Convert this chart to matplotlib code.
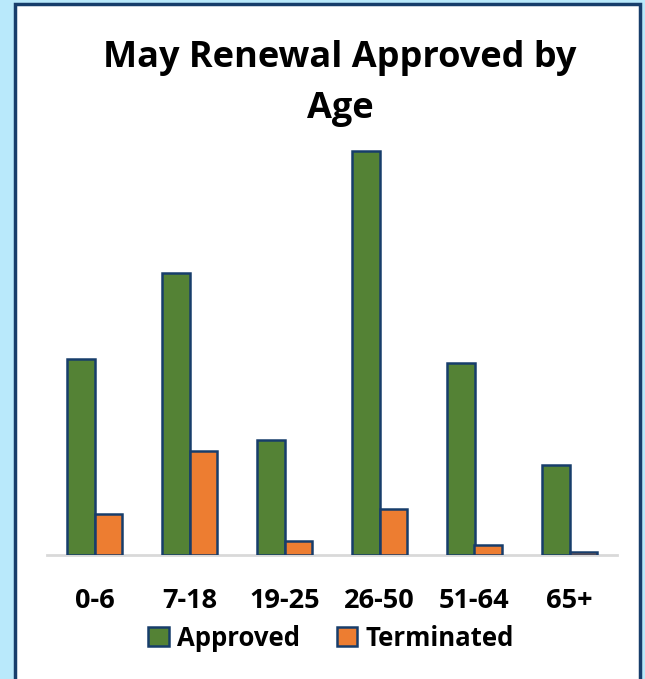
import matplotlib.pyplot as plt
import numpy as np
from matplotlib.patches import Rectangle

ages = ["0-6", "7-18", "19-25", "26-50", "51-64", "65+"]
approved = [196, 282, 115, 404, 192, 90]
terminated = [41, 104, 14, 46, 10, 3]

green = "#548235"
orange = "#ED7D31"
navy = "#173D6B"

plt.rcParams["font.family"] = ["Open Sans", "DejaVu Sans"]
plt.rcParams["font.weight"] = "bold"

W, H = 645, 679
fig = plt.figure(figsize=(W / 100, H / 100), dpi=100)
fig.patch.set_facecolor("#B9E9FB")

# white panel with dark border
fig.patches.append(Rectangle((15 / W, -0.01), (640 - 15) / W, (H - 4) / H + 0.01,
                             transform=fig.transFigure, facecolor="white",
                             edgecolor=navy, linewidth=2.5, zorder=-5))

ax = fig.add_axes([47 / W, (H - 555) / H, (617 - 47) / W, (555 - 130) / H])
ax.set_facecolor("none")

x = np.arange(len(ages))
w = 0.29
ax.bar(x - w / 2, approved, w, color=green, edgecolor=navy, linewidth=1.8,
       label="Approved", zorder=3)
ax.bar(x + w / 2, terminated, w, color=orange, edgecolor=navy, linewidth=1.8,
       label="Terminated", zorder=3)

ax.set_xlim(-0.5, 5.5)
ax.set_ylim(0, 425)
for s in ["top", "right", "left"]:
    ax.spines[s].set_visible(False)
ax.spines["bottom"].set_color("#D9D9D9")
ax.spines["bottom"].set_linewidth(2)
ax.set_yticks([])
ax.set_xticks(x, ages, fontsize=19.5, fontweight="bold")
ax.tick_params(axis="x", length=0, pad=24)

fig.text(340 / W, 1 - 58 / H, "May Renewal Approved by", ha="center", va="center",
         fontsize=26, fontweight="bold")
fig.text(340 / W, 1 - 109 / H, "Age", ha="center", va="center",
         fontsize=26, fontweight="bold")

leg = fig.legend(loc="center", bbox_to_anchor=(331 / W, 1 - 638 / H), ncol=2,
                 frameon=False, prop={"weight": "bold", "size": 18.5},
                 handlelength=0.8, handleheight=0.8, handletextpad=0.3,
                 columnspacing=1.45)

fig.savefig("out.png", dpi=100, facecolor=fig.get_facecolor())
